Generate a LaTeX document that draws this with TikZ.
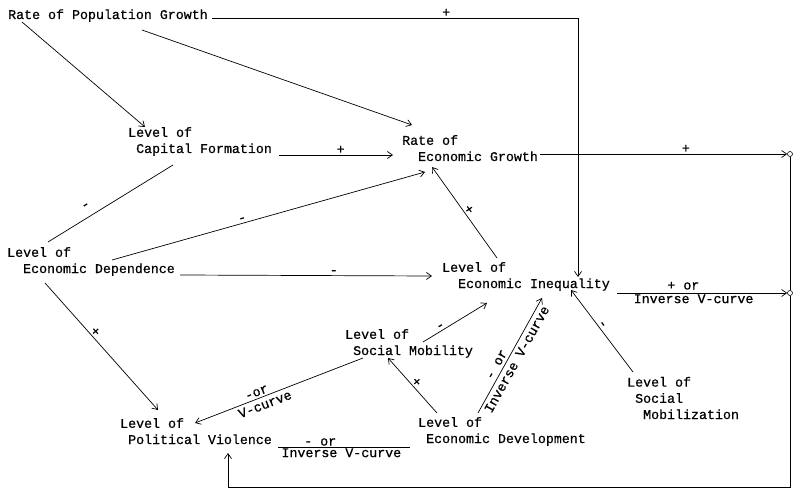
\documentclass[tikz,border=0pt]{standalone}
\usepackage{fontspec}
\setmainfont{Liberation Mono}[FakeBold=0.6]
\usetikzlibrary{arrows.meta}
\newcommand\indsp{\phantom{x}}
\begin{document}
\begin{tikzpicture}[x=1pt,y=-1pt,
  var/.style={anchor=base west, inner sep=0pt, align=left,
              font=\fontsize{13.3}{16.2}\selectfont},
  lbl/.style={inner sep=1pt, font=\fontsize{13.3}{16}\selectfont},
  arr/.style={-{Straight Barb[length=5pt,width=7pt]}, line width=0.7pt},
  ln/.style={line width=0.7pt},
  term/.style={circle, draw, line width=0.6pt, inner sep=0pt, minimum size=5pt}]
\useasboundingbox (0,0) rectangle (793,489);

% variables (each placed at the baseline of its last line)
\node[var] (pop)  at (8,19)    {Rate of Population Growth};
\node[var] (cap)  at (128,153) {Level of\\\indsp Capital Formation};
\node[var] (grow) at (402,161) {Rate of\\\indsp\indsp Economic Growth};
\node[var] (dep)  at (7,273)   {Level of\\\indsp\indsp Economic Dependence};
\node[var] (ineq) at (442,288) {Level of\\\indsp\indsp Economic Inequality};
\node[var] (mob)  at (345,355) {Level of\\\indsp Social Mobility};
\node[var] (pv)   at (120,444) {Level of\\\indsp Political Violence};
\node[var] (dev)  at (418,443) {Level of\\\indsp Economic Development};
\node[var] (smz)  at (627,419) {Level of\\\indsp Social\\\indsp\indsp Mobilization};

% junction terminals on the right
\node[term] (c1) at (790,154) {};
\node[term] (c2) at (790,293) {};

% links
\draw[arr] ([shift={(14,3)}]pop.base west) -- ([shift={(17,-26)}]cap.base west);
\draw[arr] ([shift={(134,11)}]pop.base west) -- ([shift={(10,-36)}]grow.base west);
\draw[arr] ([shift={(204,-1)}]pop.base west) -| node[lbl,above,pos=0.32]{+} ([shift={(136,-11)}]ineq.base west);
\draw[arr] ([shift={(151,2)}]cap.base west) -- node[lbl,above,pos=0.54]{+} ([shift={(-9,-6)}]grow.base west);
\draw[arr] ([shift={(138,-7)}]grow.base west) -- node[lbl,above,pos=0.59]{+} (c1.west);
\draw[ln]  ([shift={(41,-31)}]dep.base west) -- node[lbl,sloped,above=7pt,pos=0.35]{-} ([shift={(45,12)}]cap.base west);
\draw[arr] ([shift={(105,-13)}]dep.base west) -- node[lbl,sloped,above,pos=0.42]{-} ([shift={(23,11)}]grow.base west);
\draw[arr] ([shift={(173,2)}]dep.base west) -- node[lbl,above,pos=0.61]{-} ([shift={(-10,-12)}]ineq.base west);
\draw[arr] ([shift={(38,10)}]dep.base west) -- node[lbl,sloped,above,pos=0.41]{+} ([shift={(38,-34)}]pv.base west);
\draw[arr] ([shift={(55,-30)}]ineq.base west) -- node[lbl,sloped,above,pos=0.5]{+} ([shift={(30,6)}]grow.base west);
\draw[arr] ([shift={(175,5)}]ineq.base west) -- node[lbl,above=2pt,pos=0.39]{+ or} node[lbl,below,pos=0.45]{Inverse V-curve} (c2.west);
\draw[arr] ([shift={(78,-13)}]mob.base west) -- node[lbl,sloped,above,pos=0.31]{-} ([shift={(45,15)}]ineq.base west);
\draw[arr] ([shift={(19,-30)}]dev.base west) -- node[lbl,sloped,above,pos=0.5]{+} ([shift={(43,3)}]mob.base west);
\draw[arr] ([shift={(60,-30)}]dev.base west) -- node[lbl,sloped,above=2pt,pos=0.39]{- or} node[lbl,sloped,below=2pt,pos=0.5]{Inverse V-curve} ([shift={(100,10)}]ineq.base west);
\draw[arr] ([shift={(18,3)}]mob.base west) -- node[lbl,sloped,above=1pt,pos=0.62]{-or} node[lbl,sloped,below=2pt,pos=0.6]{V-curve} ([shift={(75,-21)}]pv.base west);
\draw[ln]  ([shift={(158,3)}]pv.base west) -- node[lbl,above,pos=0.32]{- or} node[lbl,below,pos=0.48]{Inverse V-curve} ([shift={(-8,4)}]dev.base west);
\draw[arr] ([shift={(6,-47)}]smz.base west) -- node[lbl,sloped,above,pos=0.55]{-} ([shift={(129,2)}]ineq.base west);

% feedback loop along the right and bottom
\draw[ln] (c1.south) -- (c2.north);
\draw[arr] (c2.south) -- ++(0,191.5) -| ([shift={(108,9)}]pv.base west);
\end{tikzpicture}
\end{document}
